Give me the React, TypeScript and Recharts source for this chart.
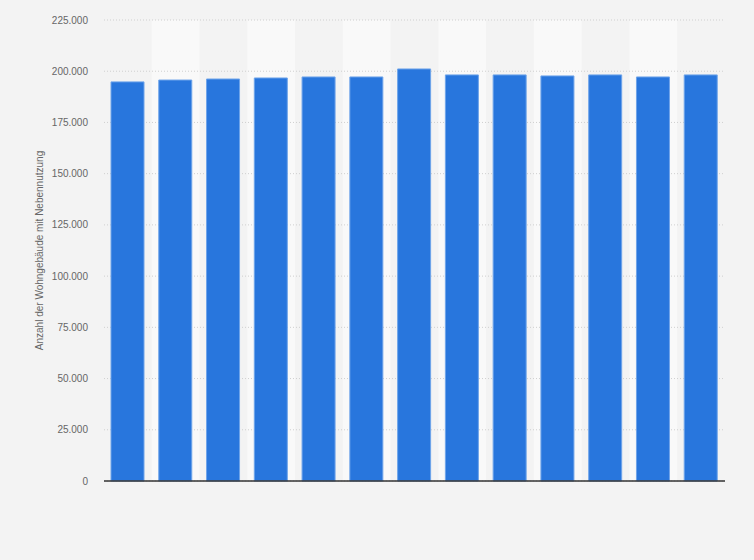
import React from 'react';
import {
  BarChart,
  Bar,
  XAxis,
  YAxis,
  CartesianGrid,
  ReferenceArea,
  ReferenceLine,
} from 'recharts';

// categories are not labelled in the source picture
const categories = ['2010', '2011', '2012', '2013', '2014', '2015', '2016', '2017', '2018', '2019', '2020', '2021', '2022'];
const buildings = [194800, 195700, 196200, 196700, 197200, 197200, 201100, 198200, 198200, 197700, 198200, 197200, 198200];
const yTicks = [0, 25000, 50000, 75000, 100000, 125000, 150000, 175000, 200000, 225000];
const yLabel = 'Anzahl der Wohngebäude mit Nebennutzung';

const data = categories.map((c, i) => ({ name: c, value: buildings[i] }));

const fmt = (v: number) => v.toLocaleString('de-DE');
const font = '"Liberation Sans", Arial, sans-serif';

export default function App() {
  return (
    <div style={{ position: 'absolute', left: 0, top: 0, width: 754, height: 560, background: '#f3f3f3' }}>
      <BarChart
        width={754}
        height={560}
        data={data}
        margin={{ top: 20, right: 29, left: 0, bottom: 79 }}
        barSize={33}
      >
        {categories.map((c, i) =>
          i % 2 === 1 ? (
            <ReferenceArea
              key={c}
              x1={c}
              x2={c}
              y1={0}
              y2={225000}
              fill="#f9f9f9"
              fillOpacity={1}
              stroke="none"
              zIndex={-200}
            />
          ) : null
        )}
        <CartesianGrid vertical={false} stroke="#cfcfcf" strokeDasharray="1 2" />
        <XAxis dataKey="name" tick={false} tickLine={false} axisLine={false} height={0} />
        <YAxis
          width={104}
          domain={[0, 225000]}
          ticks={yTicks}
          tickFormatter={fmt}
          axisLine={false}
          tickLine={false}
          tickMargin={10}
          tick={{ fontSize: 10, fill: '#666', fontFamily: font }}
          label={{
            value: yLabel,
            angle: -90,
            position: 'insideLeft',
            offset: 39,
            style: { textAnchor: 'middle', fontSize: 10, fill: '#666', fontFamily: font },
          }}
        />
        <Bar
          dataKey="value"
          fill="#2876dd"
          stroke="#6ea4ea"
          strokeWidth={1}
          isAnimationActive={false}
        />
        <ReferenceLine y={0} stroke="#333" strokeWidth={1.3} />
      </BarChart>
    </div>
  );
}
